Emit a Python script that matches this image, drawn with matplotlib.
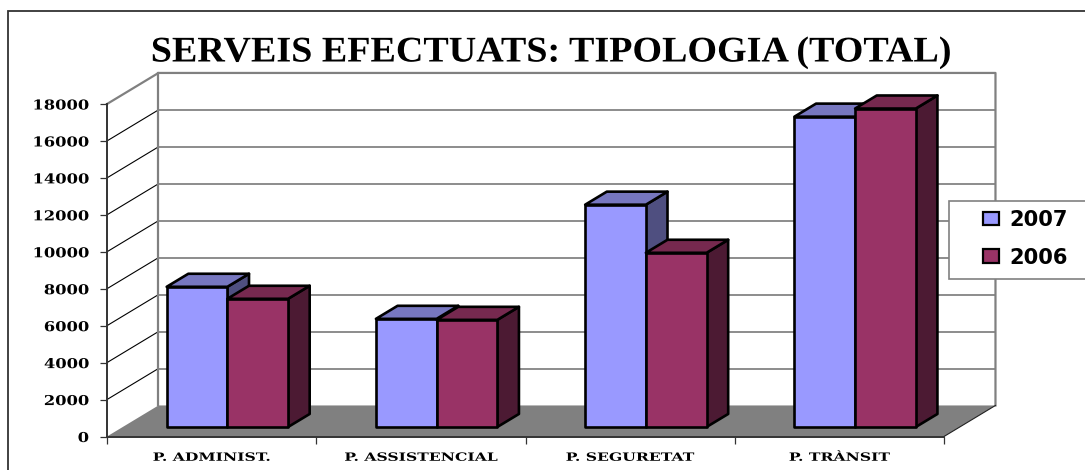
import matplotlib
matplotlib.use("Agg")
import matplotlib.pyplot as plt
from matplotlib.patches import Polygon, Rectangle, Patch
from matplotlib.patheffects import AbstractPathEffect
from matplotlib.transforms import Affine2D

categories = ["P. ADMINIST.", "P. ASSISTENCIAL", "P. SEGURETAT", "P. TRÀNSIT"]
series_2007 = [7590, 5855, 12035, 16800]
series_2006 = [6940, 5800, 9430, 17240]
y_ticks = [0, 2000, 4000, 6000, 8000, 10000, 12000, 14000, 16000, 18000]
title = "SERVEIS EFECTUATS: TIPOLOGIA (TOTAL)"

W, H = 1085, 470
GRAY = "#808080"
DX, DY = 0.246, 1681.0
D0, D1 = 0.306, 0.726
BW = 0.29


class Widen(AbstractPathEffect):
    """Widen one text artist about a fixed device x."""

    def __init__(self, text, sx, anchor):
        super().__init__()
        self.text, self.sx, self.anchor = text, sx, anchor

    def draw_path(self, renderer, gc, tpath, affine, rgbFace=None):
        bb = self.text.get_window_extent(renderer)
        cx = bb.x1 if self.anchor == "right" else 0.5 * (bb.x0 + bb.x1)
        t = affine + Affine2D().translate(-cx, 0).scale(self.sx, 1).translate(cx, 0)
        renderer.draw_path(gc, tpath, t, rgbFace)


fig = plt.figure(figsize=(W / 100, H / 100), dpi=100, facecolor="white")
ax = fig.add_axes([107 / W, 1 - 436.5 / H, (944 - 107) / W, 332.5 / H])
ax.set_xlim(0, 4)
ax.set_ylim(0, 18000)
ax.patch.set_visible(False)

fig.add_artist(Rectangle((8 / W, -0.2), 1.2, 0.2 + (1 - 11 / H), fill=False, ec="#333333", lw=1.3))

# walls and floor
ax.add_patch(Polygon([(0, 0), (4, 0), (4 + DX, DY), (DX, DY)], fc=GRAY, ec="none", zorder=1, clip_on=False))
for v in y_ticks[1:-1]:
    ax.plot([0, DX], [v, v + DY], color="black", lw=0.8, zorder=1.2, clip_on=False)
    ax.plot([DX, 4 + DX], [v + DY, v + DY], color="#6e6e6e", lw=1.1, zorder=1.2, clip_on=False)
ax.plot([0, DX, 4 + DX, 4 + DX], [18000, 18000 + DY, 18000 + DY, DY], color=GRAY, lw=1.6, zorder=1.3, clip_on=False)
ax.plot([DX, DX], [DY, 18000 + DY], color=GRAY, lw=1.6, zorder=1.3, clip_on=False)
ax.plot([4, 4 + DX], [0, DY], color="#222222", lw=0.8, zorder=1.3, clip_on=False)


def box(x0, value, front, top, side, z):
    x1 = x0 + BW
    xa, xb = x0 + D0 * DX, x1 + D0 * DX
    xc, xd = x0 + D1 * DX, x1 + D1 * DX
    y0a, y1a = D0 * DY, value + D0 * DY
    y0b, y1b = D1 * DY, value + D1 * DY
    kw = dict(ec="black", lw=1.9, clip_on=False, joinstyle="round")
    ax.add_patch(Polygon([(xb, y0a), (xd, y0b), (xd, y1b), (xb, y1a)], fc=side, zorder=z, **kw))
    ax.add_patch(Polygon([(xa, y1a), (xb, y1a), (xd, y1b), (xc, y1b)], fc=top, zorder=z, **kw))
    ax.add_patch(Polygon([(xa, y0a), (xb, y0a), (xb, y1a), (xa, y1a)], fc=front, zorder=z + 0.1, **kw))


C07 = ("#9999FF", "#7777C0", "#4F4F80")
C06 = ("#993366", "#76294F", "#4C1A33")
for i, (a, b) in enumerate(zip(series_2007, series_2006)):
    start = i + 0.5 - BW
    box(start, a, *C07, 2 + i)
    box(start + BW, b, *C06, 2.5 + i)

# axes
for s in ("top", "right"):
    ax.spines[s].set_visible(False)
for s in ("left", "bottom"):
    ax.spines[s].set_color("#333333")
    ax.spines[s].set_linewidth(1.4)
    ax.spines[s].set_zorder(1.5)
ax.set_yticks(y_ticks)
ylabels = ax.set_yticklabels([str(v) for v in y_ticks], family="DejaVu Serif", weight="bold", fontsize=9.8)
ax.tick_params(axis="y", length=5, width=0.9, color="#333333", pad=8)
ax.set_xticks(range(5))
ax.set_xticklabels([])
ax.tick_params(axis="x", which="major", length=5, width=0.9, color="#333333")
ax.set_xticks([i + 0.5 for i in range(4)], minor=True)
xlabels = ax.set_xticklabels(categories, minor=True, family="DejaVu Serif", weight="bold", fontsize=8.2)
ax.tick_params(axis="x", which="minor", length=0, pad=11)
for t in ylabels:
    t.set_path_effects([Widen(t, 1.2, "right")])
for t in xlabels:
    t.set_path_effects([Widen(t, 1.37, "center")])

ttl = fig.text(551.5 / W, 1 - 53 / H, title, family="Liberation Serif", weight="bold", fontsize=26,
               ha="center", va="center", color="black")
ttl.set_path_effects([Widen(ttl, 1.054, "center")])

# legend
ax.add_patch(Rectangle((949 / W, 1 - 279 / H), 200 / W, 78 / H, transform=fig.transFigure,
                       fc="white", ec=GRAY, lw=1.2, zorder=40, clip_on=False))
handles = [Patch(fc=C07[0], ec="black", lw=1.6), Patch(fc=C06[0], ec="black", lw=1.6)]
leg = ax.legend(handles, ["2007", "2006"], loc="upper left", bbox_to_anchor=(983 / W, 1 - 210 / H),
                bbox_transform=fig.transFigure, frameon=False, borderpad=0, borderaxespad=0,
                handlelength=0.76, handleheight=0.62, handletextpad=0.48, labelspacing=0.84,
                prop={"family": "DejaVu Sans", "weight": "bold", "size": 15.1})
leg.set_zorder(41)

fig.savefig("out.png", dpi=100)
